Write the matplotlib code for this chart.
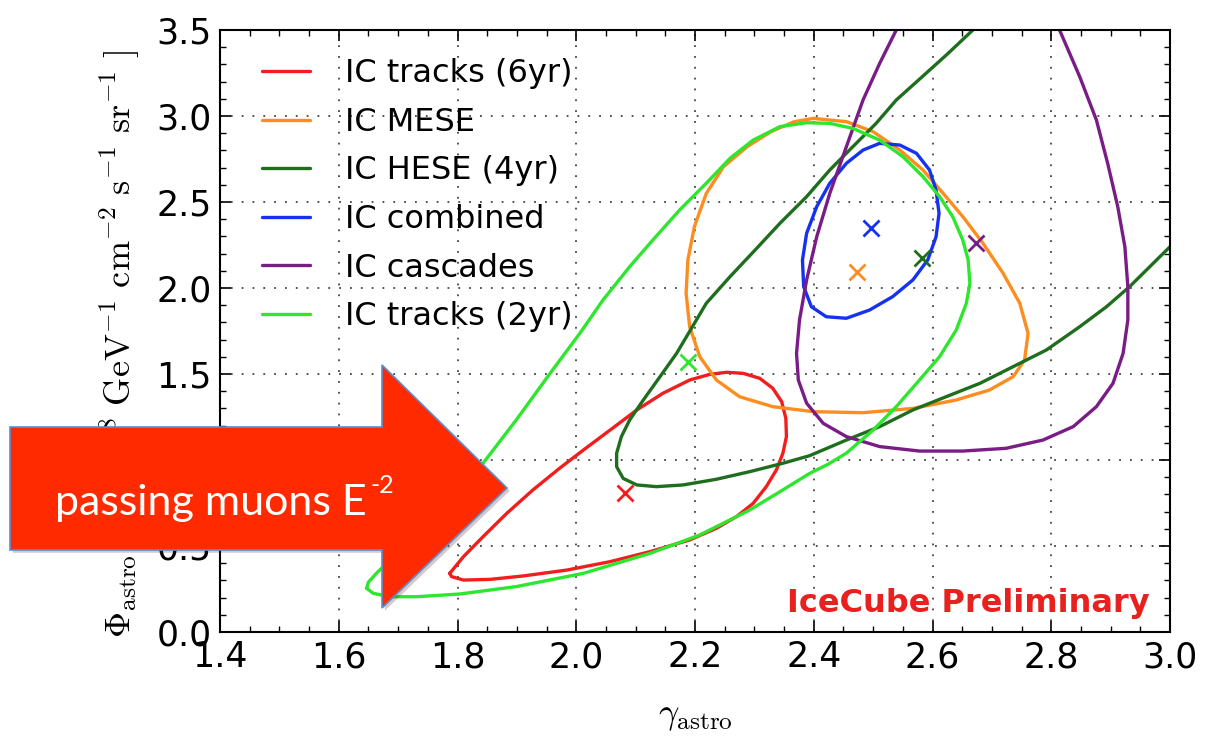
import matplotlib
matplotlib.use('Agg')
import matplotlib.pyplot as plt
from matplotlib.patches import Polygon
from matplotlib.text import Annotation
import matplotlib.patheffects as pe
from matplotlib.ticker import MultipleLocator, FormatStrFormatter

plt.rcParams['mathtext.fontset'] = 'cm'
plt.rcParams['font.family'] = ['DejaVu Sans']

# ---------------- data ----------------
# IC tracks (6yr) contour
red_x = [1.787, 1.810, 1.843, 1.883, 1.927, 1.972, 2.012, 2.057, 2.102, 2.146, 2.191, 2.225,
         2.253, 2.281, 2.309, 2.331, 2.346, 2.353, 2.354, 2.348, 2.337, 2.320, 2.298, 2.270,
         2.236, 2.191, 2.124, 2.057, 1.984, 1.911, 1.855, 1.810, 1.790, 1.787]
red_y = [0.341, 0.438, 0.554, 0.690, 0.826, 0.952, 1.058, 1.174, 1.291, 1.388, 1.465, 1.498,
         1.510, 1.504, 1.475, 1.417, 1.339, 1.242, 1.136, 1.039, 0.942, 0.845, 0.748, 0.671,
         0.603, 0.535, 0.467, 0.409, 0.360, 0.326, 0.306, 0.302, 0.322, 0.341]
# IC MESE contour
ora_x = [2.399, 2.455, 2.500, 2.545, 2.584, 2.618, 2.651, 2.685, 2.719, 2.747, 2.761, 2.755,
         2.736, 2.696, 2.640, 2.567, 2.483, 2.399, 2.331, 2.275, 2.236, 2.208, 2.191, 2.185,
         2.188, 2.199, 2.219, 2.248, 2.288, 2.328, 2.367, 2.399]
ora_y = [2.986, 2.967, 2.909, 2.802, 2.686, 2.550, 2.415, 2.260, 2.085, 1.911, 1.736, 1.581,
         1.485, 1.407, 1.349, 1.300, 1.275, 1.281, 1.310, 1.368, 1.465, 1.601, 1.775, 1.969,
         2.163, 2.357, 2.550, 2.705, 2.822, 2.909, 2.967, 2.986]
# IC HESE (4yr) contour (open, leaves the frame)
dg_x = [3.030, 3.000, 2.966, 2.932, 2.893, 2.848, 2.792, 2.736, 2.680, 2.623, 2.567, 2.511,
        2.455, 2.393, 2.348, 2.292, 2.236, 2.180, 2.135, 2.102, 2.079, 2.068, 2.068, 2.076,
        2.090, 2.113, 2.141, 2.169, 2.219, 2.259, 2.304, 2.343, 2.388, 2.427, 2.466, 2.505,
        2.539, 2.580, 2.625, 2.668, 2.690]
dg_y = [2.350, 2.240, 2.124, 2.008, 1.891, 1.775, 1.640, 1.543, 1.446, 1.368, 1.291, 1.194,
        1.116, 1.025, 0.981, 0.932, 0.888, 0.855, 0.845, 0.855, 0.893, 0.961, 1.039, 1.136,
        1.233, 1.349, 1.484, 1.620, 1.911, 2.066, 2.231, 2.376, 2.531, 2.686, 2.822, 2.957,
        3.093, 3.220, 3.360, 3.500, 3.570]
# IC combined contour
blu_x = [2.511, 2.545, 2.573, 2.595, 2.606, 2.611, 2.606, 2.592, 2.567, 2.533, 2.494, 2.455,
         2.421, 2.396, 2.383, 2.381, 2.388, 2.405, 2.427, 2.455, 2.483, 2.511]
blu_y = [2.841, 2.831, 2.783, 2.686, 2.570, 2.434, 2.298, 2.163, 2.047, 1.950, 1.872, 1.824,
         1.833, 1.891, 2.008, 2.163, 2.318, 2.473, 2.609, 2.725, 2.802, 2.841]
# IC cascades contour (open, leaves the frame)
pur_x = [2.548, 2.539, 2.511, 2.483, 2.455, 2.427, 2.405, 2.388, 2.376, 2.371, 2.374, 2.388,
         2.416, 2.455, 2.511, 2.578, 2.651, 2.724, 2.786, 2.837, 2.876, 2.904, 2.921, 2.929,
         2.929, 2.924, 2.912, 2.895, 2.876, 2.848, 2.814, 2.806]
pur_y = [3.560, 3.500, 3.306, 3.093, 2.822, 2.550, 2.298, 2.047, 1.814, 1.620, 1.465, 1.330,
         1.213, 1.136, 1.078, 1.052, 1.052, 1.068, 1.116, 1.194, 1.310, 1.446, 1.620, 1.814,
         2.008, 2.240, 2.473, 2.725, 2.977, 3.228, 3.500, 3.560]
# IC tracks (2yr) contour
lim_x = [1.647, 1.658, 1.686, 1.731, 1.804, 1.899, 2.012, 2.124, 2.208, 2.292, 2.348, 2.393,
         2.424, 2.455, 2.500, 2.539, 2.578, 2.612, 2.640, 2.657, 2.663, 2.660, 2.651, 2.634,
         2.612, 2.584, 2.550, 2.511, 2.466, 2.427, 2.388, 2.343, 2.298, 2.259, 2.219, 2.174,
         2.129, 2.090, 2.045, 2.006, 1.956, 1.899, 1.843, 1.775, 1.710, 1.664, 1.650, 1.647]
lim_y = [0.254, 0.225, 0.205, 0.205, 0.221, 0.264, 0.341, 0.457, 0.564, 0.709, 0.826, 0.922,
         0.975, 1.040, 1.174, 1.310, 1.465, 1.601, 1.756, 1.911, 2.027, 2.163, 2.279, 2.415,
         2.531, 2.647, 2.764, 2.860, 2.928, 2.957, 2.961, 2.938, 2.860, 2.754, 2.609, 2.453,
         2.279, 2.124, 1.930, 1.736, 1.504, 1.233, 0.981, 0.720, 0.500, 0.343, 0.290, 0.254]

labels = ['IC tracks (6yr)', 'IC MESE', 'IC HESE (4yr)', 'IC combined', 'IC cascades',
          'IC tracks (2yr)']
colors = ['#F21D1D', '#FF8C1F', '#1E6E1E', '#1432F0', '#7A1C86', '#2EE62E']
contour_x = [red_x, ora_x, dg_x, blu_x, pur_x, lim_x]
contour_y = [red_y, ora_y, dg_y, blu_y, pur_y, lim_y]

# best-fit points (same order)
best_x = [2.082, 2.472, 2.582, 2.496, 2.674, 2.188]
best_y = [0.808, 2.093, 2.174, 2.349, 2.264, 1.570]

x_ticks = [1.4, 1.6, 1.8, 2.0, 2.2, 2.4, 2.6, 2.8, 3.0]
y_ticks = [0.0, 0.5, 1.0, 1.5, 2.0, 2.5, 3.0, 3.5]

# ---------------- figure ----------------
W, H = 1205, 740
fig = plt.figure(figsize=(W / 100, H / 100), dpi=100)
fig.patch.set_facecolor('white')
ax = fig.add_axes([220 / W, 108 / H, 950 / W, 602 / H])

for cx, cy, col, lab in zip(contour_x, contour_y, colors, labels):
    ax.plot(cx, cy, color=col, lw=2.4, label=lab, solid_joinstyle='round',
            solid_capstyle='round')
for bx, by, col in zip(best_x, best_y, colors):
    ax.plot([bx], [by], 'x', color=col, ms=12, mew=2.0)

ax.set_xlim(1.4, 3.0)
ax.set_ylim(0, 3.5)
ax.set_xticks(x_ticks)
ax.set_yticks(y_ticks)
ax.xaxis.set_minor_locator(MultipleLocator(0.05))
ax.yaxis.set_minor_locator(MultipleLocator(0.1))
ax.xaxis.set_major_formatter(FormatStrFormatter('%.1f'))
ax.yaxis.set_major_formatter(FormatStrFormatter('%.1f'))
ax.tick_params(which='both', direction='in', top=True, right=True)
ax.tick_params(which='major', length=8, width=1.2, labelsize=25, pad=6)
ax.tick_params(which='minor', length=4, width=1.0)
for sp in ax.spines.values():
    sp.set_linewidth(1.5)
ax.grid(True, which='major', linestyle=(0, (1, 5)), color='#444444', lw=1.3)

ax.legend(loc='upper left', bbox_to_anchor=(0.044, 0.953), frameon=False, fontsize=23,
          handlelength=1.5, handletextpad=1.1, labelspacing=0.55, borderpad=0,
          borderaxespad=0)

ax.text(0.979, 0.048, 'IceCube Preliminary', transform=ax.transAxes, ha='right',
        va='center', fontsize=23, fontweight='bold', color='#E8201E',
        family='DejaVu Sans')

fig.text(120 / W, 1 - 344 / H,
         r'$\Phi_{\rm astro}\quad\ [10^{-18}\ \rm GeV^{-1}\ cm^{-2}\ s^{-1}\ sr^{-1}\ ]$',
         rotation=90, ha='center', va='center', fontsize=26)
fig.text(695 / W, 1 - 716 / H, r'$\gamma_{\rm astro}$', ha='center', va='center',
         fontsize=26)

# ---------------- overlay arrow annotation ----------------
arrow_px = [(10, 427), (382, 427), (382, 365), (507, 488), (382, 608), (382, 550), (10, 550)]
arrow = Polygon([(px / W, 1 - py / H) for px, py in arrow_px], closed=True,
                transform=fig.transFigure, facecolor='#FF2A00', edgecolor='#5B8ECF',
                lw=1.2, zorder=10)
arrow.set_path_effects([pe.SimplePatchShadow(offset=(2, -2), alpha=0.22), pe.Normal()])
fig.add_artist(arrow)

t = fig.text(55 / W, 1 - 515 / H, 'passing muons E', ha='left', va='baseline',
             fontsize=31, color='white', family='Lato', zorder=11)
sup = Annotation('-2', xy=(1.0, H - 493), xycoords=(t, 'figure pixels'),
                 xytext=(3, 0), textcoords='offset points', ha='left', va='baseline',
                 fontsize=18, color='white', family='Lato', zorder=11)
fig.add_artist(sup)

fig.savefig('out.png', dpi=100, facecolor='white')
